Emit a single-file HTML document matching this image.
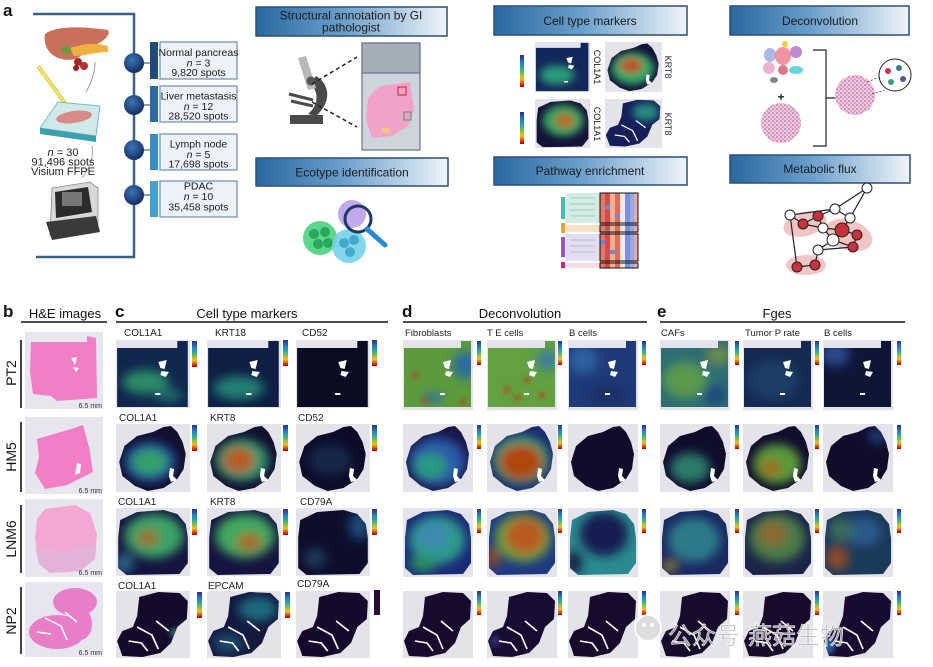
<!DOCTYPE html>
<html><head><meta charset="utf-8"><style>
html,body{margin:0;padding:0;background:#fff;}
svg{display:block;font-family:"Liberation Sans","Noto Sans CJK SC",sans-serif;}
</style></head><body>
<svg width="933" height="667" viewBox="0 0 933 667" xmlns="http://www.w3.org/2000/svg">
<defs>
<linearGradient id="hdr" x1="0" y1="0" x2="1" y2="0">
<stop offset="0" stop-color="#2a68a0"/><stop offset="0.45" stop-color="#6a9fcb"/><stop offset="1" stop-color="#f0f4fa"/></linearGradient>
<linearGradient id="jet" x1="0" y1="0" x2="0" y2="1">
<stop offset="0" stop-color="#2c2c8c"/><stop offset="0.25" stop-color="#2a80c0"/><stop offset="0.45" stop-color="#30b090"/><stop offset="0.6" stop-color="#90c040"/><stop offset="0.75" stop-color="#f0c020"/><stop offset="0.88" stop-color="#e05010"/><stop offset="1" stop-color="#a00000"/></linearGradient>
<radialGradient id="sph" cx="0.4" cy="0.35" r="0.7">
<stop offset="0" stop-color="#3f74b8"/><stop offset="1" stop-color="#0e2a5c"/></radialGradient>
<filter id="bl" x="-50%" y="-50%" width="200%" height="200%"><feGaussianBlur stdDeviation="5"/></filter>
<filter id="bl2" x="-50%" y="-50%" width="200%" height="200%"><feGaussianBlur stdDeviation="2.5"/></filter>
<pattern id="tis" width="4" height="4" patternUnits="userSpaceOnUse">
<rect width="4" height="4" fill="#f3c8d8"/><circle cx="1" cy="1" r="0.8" fill="#8a5aa8"/><circle cx="3" cy="3" r="0.8" fill="#e0708f"/></pattern>
<clipPath id="cPT2"><path d="M1,8 L58,8 L58,1 L68,1 L68,67 L1,67 Z"/></clipPath>
<clipPath id="cHM5"><path d="M3,38 L8,22 L20,12 L35,8 L45,3 L52,2 L58,8 L63,18 L66,30 L64,45 L58,55 L45,64 L30,67 L18,62 L6,52 Z"/></clipPath>
<clipPath id="cLNM"><path d="M4,12 L20,4 L45,2 L58,6 L66,16 L68,30 L68,55 L60,66 L10,67 L2,60 L2,30 Z"/></clipPath>
<clipPath id="cNP2"><path d="M22,6 L40,1 L60,2 L68,10 L67,28 L58,36 L52,52 L42,62 L25,66 L6,65 L1,50 L6,40 L16,36 L20,25 Z"/></clipPath>
<g id="hPT2" fill="#fff"><path d="M40,22 L48,20 L46,29 L42,28 Z"/><path d="M43,31 L50,32 L47,37 L42,35 Z"/><rect x="37" y="53" width="5" height="2"/></g>
<g id="hHM5" fill="#fff"><path d="M51,44 L55,45 L54,52 L58,56 L52,58 L50,52 Z"/></g>
<g id="hNP2" fill="none" stroke="#fff" stroke-width="1.6"><path d="M20,36 L34,44 L40,58"/><path d="M12,50 L24,52 L30,60"/><path d="M38,30 L50,40"/></g>
</defs>

<!-- ================= PANEL A ================= -->
<text x="3" y="16" font-size="17" font-weight="bold" fill="#111">a</text>
<path d="M33,14 H134 V257 H36" fill="none" stroke="#3b5f85" stroke-width="2.5"/>
<!-- organ illustration -->
<path d="M45,34 C55,26 80,26 108,30 C112,36 100,44 88,48 C80,60 70,62 58,58 C48,54 43,44 45,34 Z" fill="#c9705c"/>
<path d="M70,48 C82,44 95,42 108,46 L108,52 C96,52 84,56 74,56 Z" fill="#f0b040"/>
<ellipse cx="66" cy="50" rx="5" ry="4" fill="#6a9a40"/>
<circle cx="78" cy="62" r="4" fill="#a82828"/><circle cx="84" cy="66" r="4" fill="#b83030"/><circle cx="76" cy="68" r="3" fill="#a02020"/>
<path d="M95,62 C95,75 90,85 86,92" fill="none" stroke="#999" stroke-width="1"/>
<path d="M38,66 L70,110" stroke="#d8cf3a" stroke-width="4"/>
<path d="M38,66 L70,110" stroke="#f2ec8a" stroke-width="1.5"/>
<!-- slide platform -->
<path d="M40,128 L58,102 L100,106 L96,136 Z" fill="#cfe9ea" stroke="#7cbcc2" stroke-width="1"/>
<path d="M40,128 L96,136 L96,142 L40,134 Z" fill="#3aa0ad"/>
<ellipse cx="74" cy="117" rx="18" ry="6" fill="#d88a86" transform="rotate(-8 74 117)"/>
<path d="M92,146 C94,158 90,168 82,178" fill="none" stroke="#aaa" stroke-width="1"/>
<text font-size="11" fill="#222" text-anchor="middle"><tspan x="63" y="156"><tspan font-style="italic">n</tspan> = 30</tspan><tspan x="63" y="165.5">91,496 spots</tspan><tspan x="63" y="175">Visium FFPE</tspan></text>
<!-- machine -->
<path d="M52,188 L90,182 L98,188 L98,230 L50,236 Z" fill="#d8d8da" stroke="#888" stroke-width="0.8"/>
<path d="M55,192 L88,187 L92,212 L56,218 Z" fill="#2b2b2b"/>
<path d="M46,222 L96,216 L100,232 L52,240 Z" fill="#3a3a3a"/>
<rect x="62" y="192" width="20" height="14" fill="#777"/>
<!-- spheres and boxes -->
<g>
<line x1="134" y1="63" x2="150" y2="63" stroke="#3b5f85" stroke-width="1.2"/>
<line x1="134" y1="105" x2="150" y2="105" stroke="#3b5f85" stroke-width="1.2"/>
<line x1="134" y1="150" x2="150" y2="150" stroke="#3b5f85" stroke-width="1.2"/>
<line x1="134" y1="195" x2="150" y2="195" stroke="#3b5f85" stroke-width="1.2"/>
<circle cx="134" cy="63" r="10" fill="url(#sph)"/>
<circle cx="134" cy="105" r="10" fill="url(#sph)"/>
<circle cx="134" cy="150" r="10" fill="url(#sph)"/>
<circle cx="134" cy="195" r="10" fill="url(#sph)"/>
<rect x="150" y="42" width="8" height="37" fill="#1f4a7c"/>
<rect x="150" y="86" width="8" height="36" fill="#2c6aa6"/>
<rect x="150" y="134" width="8" height="36" fill="#3a8cc6"/>
<rect x="150" y="181" width="8" height="36" fill="#40a0d4"/>
<rect x="160" y="42" width="77" height="37" fill="#edf1f8" stroke="#6d8db0" stroke-width="1.2"/>
<rect x="160" y="86" width="77" height="36" fill="#edf1f8" stroke="#6d8db0" stroke-width="1.2"/>
<rect x="160" y="134" width="77" height="36" fill="#edf1f8" stroke="#6d8db0" stroke-width="1.2"/>
<rect x="160" y="181" width="77" height="36" fill="#edf1f8" stroke="#6d8db0" stroke-width="1.2"/>
<g font-size="10.5" fill="#1a1a1a" text-anchor="middle">
<text x="198.5" y="56">Normal pancreas</text><text x="198.5" y="66.5"><tspan font-style="italic">n</tspan> = 3</text><text x="198.5" y="76">9,820 spots</text>
<text x="198.5" y="99.5">Liver metastasis</text><text x="198.5" y="110"><tspan font-style="italic">n</tspan> = 12</text><text x="198.5" y="119.5">28,520 spots</text>
<text x="198.5" y="147.5">Lymph node</text><text x="198.5" y="158"><tspan font-style="italic">n</tspan> = 5</text><text x="198.5" y="167.5">17,698 spots</text>
<text x="198.5" y="189.5">PDAC</text><text x="198.5" y="200"><tspan font-style="italic">n</tspan> = 10</text><text x="198.5" y="210.5">35,458 spots</text>
</g>
</g>

<!-- ================= HEADER BOXES ================= -->
<g stroke="#2b4f78" stroke-width="1.5" fill="url(#hdr)">
<rect x="256" y="7" width="191" height="29"/>
<rect x="256" y="158" width="192" height="28"/>
<rect x="494" y="6" width="193" height="29"/>
<rect x="494" y="157" width="193" height="28"/>
<rect x="730" y="6" width="179" height="29"/>
<rect x="730" y="155" width="180" height="28"/>
</g>
<g font-size="12" fill="#1a1a1a" text-anchor="middle">
<text x="351" y="19.5">Structural annotation by GI</text>
<text x="351" y="31.5">pathologist</text>
<text x="352" y="176.5">Ecotype identification</text>
<text x="590" y="25">Cell type markers</text>
<text x="590" y="175">Pathway enrichment</text>
<text x="820" y="25">Deconvolution</text>
<text x="820" y="173">Metabolic flux</text>
</g>

<!-- microscope -->
<g>
<rect x="290" y="115" width="33" height="9" fill="#4a4a4a"/>
<path d="M316,116 C332,102 330,84 316,76 L310,84 C320,92 318,106 308,114 Z" fill="#4a4a4a"/>
<path d="M298,58 L306,56 L316,88 L308,90 Z" fill="#b8b8b8"/>
<circle cx="311" cy="81" r="4.5" fill="#555"/>
<line x1="289" y1="94" x2="313" y2="100" stroke="#4a4a4a" stroke-width="3"/>
<line x1="291" y1="101" x2="313" y2="106" stroke="#4a4a4a" stroke-width="3"/>
<line x1="312" y1="84" x2="357" y2="57" stroke="#222" stroke-width="1.5" stroke-dasharray="4,3"/>
<line x1="312" y1="102" x2="357" y2="127" stroke="#222" stroke-width="1.5" stroke-dasharray="4,3"/>
<rect x="362" y="43" width="58" height="107" fill="#cdd4dc" stroke="#6a7585" stroke-width="1.2"/>
<rect x="362" y="43" width="58" height="30" fill="#a4aeb9" stroke="#6a7585" stroke-width="1.2"/>
<path d="M368,98 L380,86 L410,82 L414,110 L408,126 L392,136 L372,138 L366,120 Z" fill="#f2a2c8"/>
<rect x="398" y="87" width="8" height="8" fill="none" stroke="#c02030" stroke-width="1"/>
<rect x="404" y="112" width="7" height="8" fill="none" stroke="#40a060" stroke-width="1"/>
<rect x="381" y="128" width="8" height="5" fill="#f0d070" opacity="0.8"/>
</g>
<!-- ecotype icon -->
<g>
<circle cx="320" cy="238" r="17" fill="#3fcf7a" opacity="0.85"/>
<circle cx="314" cy="234" r="5" fill="#27a85a"/><circle cx="325" cy="232" r="5" fill="#27a85a"/><circle cx="318" cy="244" r="5" fill="#27a85a"/><circle cx="328" cy="243" r="5" fill="#27a85a"/>
<circle cx="349" cy="246" r="17" fill="#6ed0e8" opacity="0.85"/>
<circle cx="344" cy="243" r="5" fill="#44aacc"/><circle cx="354" cy="240" r="5" fill="#44aacc"/><circle cx="350" cy="252" r="5" fill="#44aacc"/>
<circle cx="352" cy="214" r="14" fill="#b69ae8" opacity="0.85"/>
<circle cx="358" cy="219" r="13" fill="none" stroke="#1d3a66" stroke-width="3"/>
<line x1="367" y1="229" x2="385" y2="245" stroke="#2a8ad0" stroke-width="5" stroke-linecap="round"/>
</g>

<!-- cell type marker thumbnails -->
<g font-size="5" fill="#555">
<rect x="520" y="55" width="4" height="32" fill="url(#jet)"/>
<rect x="520" y="112" width="4" height="32" fill="url(#jet)"/>
</g>
<g transform="translate(535,42) scale(0.786,0.735)">
<rect width="70" height="68" fill="#e4e3ea"/>
<g clip-path="url(#cPT2)"><rect width="70" height="68" fill="#13285a"/><g filter="url(#bl)"><ellipse cx="28" cy="45" rx="22" ry="13" fill="#2a9a78"/></g></g>
<use href="#hPT2"/></g>
<g transform="translate(605,42) scale(0.814,0.735)">
<rect width="70" height="68" fill="#e4e3ea"/>
<g clip-path="url(#cHM5)"><rect width="70" height="68" fill="#141238"/><g filter="url(#bl)"><ellipse cx="34" cy="36" rx="26" ry="22" fill="#30a868"/><ellipse cx="32" cy="32" rx="14" ry="10" fill="#c05020"/></g></g>
<use href="#hHM5"/></g>
<g transform="translate(535,99) scale(0.786,0.72)">
<rect width="70" height="68" fill="#e4e3ea"/>
<g clip-path="url(#cLNM)"><rect width="70" height="68" fill="#141238"/><g filter="url(#bl)"><ellipse cx="36" cy="30" rx="26" ry="22" fill="#38a060"/><ellipse cx="38" cy="30" rx="12" ry="10" fill="#b86a20"/></g></g></g>
<g transform="translate(605,99) scale(0.814,0.72)">
<rect width="70" height="68" fill="#e4e3ea"/>
<g clip-path="url(#cNP2)"><rect width="70" height="68" fill="#15205a"/><g filter="url(#bl)"><ellipse cx="50" cy="18" rx="16" ry="12" fill="#2a8a80"/></g></g>
<use href="#hNP2"/></g>
<g font-size="9" fill="#222" text-anchor="middle">
<text transform="translate(594,67) rotate(90)">COL1A1</text>
<text transform="translate(665,67) rotate(90)">KRT8</text>
<text transform="translate(594,124) rotate(90)">COL1A1</text>
<text transform="translate(665,124) rotate(90)">KRT8</text>
</g>

<!-- pathway heatmap -->
<g>
<rect x="566" y="193" width="34" height="30" fill="#d2ece6"/>
<rect x="566" y="225" width="34" height="7" fill="#f8e0c8"/>
<rect x="566" y="234" width="34" height="27" fill="#e2def2"/>
<rect x="566" y="263" width="34" height="5" fill="#f6dce6"/>
<rect x="561" y="197" width="4" height="22" fill="#3cc0b0"/>
<rect x="561" y="223" width="4" height="10" fill="#f0a030"/>
<rect x="561" y="237" width="4" height="20" fill="#a050d0"/>
<rect x="561" y="262" width="4" height="6" fill="#d02080"/>
<g fill="#e07a68"><rect x="600" y="193" width="5" height="75"/></g>
<rect x="605" y="193" width="5" height="75" fill="#d84a48"/>
<rect x="610" y="193" width="5" height="75" fill="#f2b090"/>
<rect x="615" y="193" width="5" height="75" fill="#e46a58"/>
<rect x="620" y="193" width="5" height="75" fill="#f4e6e2"/>
<rect x="625" y="193" width="5" height="75" fill="#7a92dc"/>
<rect x="630" y="193" width="4" height="75" fill="#98a8e4"/>
<rect x="634" y="193" width="4" height="75" fill="#e8a8a8"/>
<g fill="#6a88d8"><rect x="605" y="205" width="5" height="4"/><rect x="615" y="214" width="5" height="4"/><rect x="600" y="240" width="5" height="4"/><rect x="610" y="250" width="5" height="4"/><rect x="605" y="230" width="5" height="3"/></g>
<g fill="none" stroke="#111" stroke-width="1"><rect x="600" y="193" width="38" height="30"/><rect x="600" y="225" width="38" height="7"/><rect x="600" y="234" width="38" height="27"/><rect x="600" y="263" width="38" height="5"/></g>
<g stroke="#999" stroke-width="0.5"><line x1="570" y1="198" x2="595" y2="198"/><line x1="570" y1="204" x2="595" y2="204"/><line x1="570" y1="210" x2="595" y2="210"/><line x1="570" y1="216" x2="595" y2="216"/><line x1="570" y1="240" x2="595" y2="240"/><line x1="570" y1="246" x2="595" y2="246"/><line x1="570" y1="252" x2="595" y2="252"/></g>
</g>

<!-- deconvolution illustration -->
<g>
<ellipse cx="770" cy="55" rx="6" ry="7" fill="#9aa6e0" opacity="0.8"/>
<ellipse cx="783" cy="56" rx="8" ry="9" fill="#e8788a" opacity="0.8"/>
<ellipse cx="796" cy="52" rx="6" ry="6" fill="#b06ac0" opacity="0.8"/>
<ellipse cx="769" cy="68" rx="6" ry="6" fill="#e6a0c8" opacity="0.8"/>
<ellipse cx="796" cy="70" rx="7" ry="4" fill="#40c8d0" opacity="0.8"/>
<ellipse cx="783" cy="70" rx="5" ry="5" fill="#d05a6a" opacity="0.8"/>
<ellipse cx="774" cy="80" rx="4" ry="3" fill="#666" opacity="0.8"/>
<ellipse cx="785" cy="44" rx="3" ry="3" fill="#e8d040"/>
<text x="781" y="101" font-size="12" font-weight="bold" fill="#222" text-anchor="middle">+</text>
<circle cx="781" cy="123" r="20" fill="url(#tis)"/>
<path d="M813,50 H826 V146 H813 M826,98 H836" fill="none" stroke="#222" stroke-width="1.2"/>
<circle cx="855" cy="95" r="20" fill="url(#tis)"/>
<line x1="867" y1="82" x2="882" y2="76" stroke="#444" stroke-width="0.8" stroke-dasharray="2,2"/>
<line x1="872" y1="94" x2="885" y2="90" stroke="#444" stroke-width="0.8" stroke-dasharray="2,2"/>
<circle cx="895" cy="75" r="16" fill="#fff" stroke="#222" stroke-width="1"/>
<circle cx="888" cy="71" r="3" fill="#d03050"/><circle cx="899" cy="68" r="3" fill="#3a7a8a"/><circle cx="903" cy="79" r="3" fill="#5a50b0"/><circle cx="891" cy="82" r="3" fill="#3a9a80"/>
</g>

<!-- metabolic flux network -->
<g>
<ellipse cx="805" cy="224" rx="22" ry="12" fill="#f2c4c4" transform="rotate(-15 805 224)"/>
<ellipse cx="849" cy="235" rx="24" ry="15" fill="#f2c4c4" transform="rotate(20 849 235)"/>
<ellipse cx="806" cy="265" rx="20" ry="10" fill="#f2c4c4"/>
<g stroke="#222" stroke-width="1.2" fill="none">
<path d="M867,188 L835,209 L790,215 L797,267"/>
<path d="M867,188 L850,218 L842,230"/>
<path d="M835,209 L850,218"/>
<path d="M790,215 L803,224 L818,216 L835,209"/>
<path d="M803,224 L823,228 L842,230 L857,235 L853,247 L833,240 L823,228"/>
<path d="M818,216 L823,228"/>
<path d="M833,240 L818,250 L815,265 L797,267"/>
<path d="M853,247 L818,250"/>
</g>
<g stroke="#222" stroke-width="1">
<circle cx="867" cy="188" r="5" fill="#fff"/><circle cx="835" cy="209" r="5" fill="#fff"/><circle cx="850" cy="218" r="5" fill="#fff"/><circle cx="790" cy="215" r="5" fill="#fff"/>
<circle cx="818" cy="216" r="5" fill="#c8323c"/><circle cx="803" cy="224" r="5" fill="#c8323c"/><circle cx="823" cy="228" r="5" fill="#fff"/><circle cx="842" cy="230" r="7" fill="#c8323c"/>
<circle cx="857" cy="235" r="5" fill="#c8323c"/><circle cx="833" cy="240" r="6" fill="#fff"/><circle cx="853" cy="247" r="5" fill="#c8323c"/><circle cx="818" cy="250" r="5" fill="#fff"/>
<circle cx="797" cy="267" r="5" fill="#c8323c"/><circle cx="815" cy="265" r="5" fill="#c8323c"/>
</g>
</g>

<!-- ================= BOTTOM HEADERS ================= -->
<g font-size="17" font-weight="bold" fill="#111">
<text x="3" y="317">b</text><text x="115" y="317">c</text><text x="402" y="317">d</text><text x="657" y="317">e</text>
</g>
<g font-size="13" fill="#111" text-anchor="middle">
<text x="65" y="318">H&amp;E images</text>
<text x="247" y="318">Cell type markers</text>
<text x="520" y="318">Deconvolution</text>
<text x="777" y="318">Fges</text>
</g>
<g stroke="#111" stroke-width="1.6">
<line x1="21" y1="322" x2="107" y2="322"/><line x1="116" y1="322" x2="388" y2="322"/>
<line x1="403" y1="322" x2="647" y2="322"/><line x1="660" y1="322" x2="905" y2="322"/>
<line x1="21" y1="340" x2="21" y2="408"/><line x1="21" y1="422" x2="21" y2="492"/>
<line x1="21" y1="505" x2="21" y2="573"/><line x1="21" y1="587" x2="21" y2="654"/>
</g>
<g font-size="14" fill="#111" text-anchor="middle">
<text transform="translate(16,373) rotate(-90)">PT2</text>
<text transform="translate(16,457) rotate(-90)">HM5</text>
<text transform="translate(16,539) rotate(-90)">LNM6</text>
<text transform="translate(16,621) rotate(-90)">NP2</text>
</g>

<!-- H&E -->
<g transform="translate(25,332)">
<rect width="78" height="77" fill="#e7e5ed"/>
<path d="M6,10 L62,10 L62,4 L71,6 L72,66 L32,69 L26,64 L8,62 L5,40 Z" fill="#f27ec6"/>
<path d="M46,26 L52,25 L50,33 Z M48,35 L54,36 L51,40 Z" fill="#fff"/>
<text x="77" y="76" font-size="7" fill="#333" text-anchor="end">6.5 mm</text></g>
<g transform="translate(25,417)">
<rect width="78" height="77" fill="#e7e5ed"/>
<path d="M12,22 L46,12 L58,8 L64,30 L68,55 L42,68 L20,72 L10,56 L14,40 Z" fill="#f27ec6"/>
<path d="M52,46 L56,47 L55,56 L50,58 Z" fill="#fff"/>
<text x="77" y="76" font-size="7" fill="#333" text-anchor="end">6.5 mm</text></g>
<g transform="translate(25,499)">
<rect width="78" height="78" fill="#e7e5ed"/>
<path d="M20,10 L50,6 L65,14 L72,35 L70,60 L55,72 L25,74 L14,65 L10,40 L12,20 Z" fill="#f3a8d2"/>
<path d="M10,48 L40,52 L70,45 L70,60 L55,72 L25,74 L14,65 Z" fill="#e0b4d8" opacity="0.8"/>
<text x="77" y="76" font-size="7" fill="#333" text-anchor="end">6.5 mm</text></g>
<g transform="translate(25,582)">
<rect width="78" height="75" fill="#e7e5ed"/>
<ellipse cx="50" cy="20" rx="22" ry="14" fill="#e97ec8"/>
<ellipse cx="32" cy="50" rx="28" ry="17" fill="#e97ec8"/>
<ellipse cx="55" cy="42" rx="12" ry="16" fill="#e97ec8"/>
<path d="M20,36 L36,44 L42,58 M12,50 L26,52 M40,30 L52,40" stroke="#fff" stroke-width="1.5" fill="none"/>
<text x="77" y="73" font-size="7" fill="#333" text-anchor="end">6.5 mm</text></g>

<!-- column labels -->
<g font-size="10" fill="#222">
<text x="124" y="336">COL1A1</text><text x="215" y="336">KRT18</text><text x="302" y="336">CD52</text>
<text x="119" y="421">COL1A1</text><text x="210" y="421">KRT8</text><text x="298" y="421">CD52</text>
<text x="118" y="505">COL1A1</text><text x="210" y="505">KRT8</text><text x="300" y="505">CD79A</text>
<text x="118" y="589">COL1A1</text><text x="208" y="589">EPCAM</text><text x="297" y="587">CD79A</text>
</g>
<g font-size="9.5" fill="#222">
<text x="405" y="336">Fibroblasts</text><text x="487" y="336">T E cells</text><text x="569" y="336">B cells</text>
<text x="661" y="336">CAFs</text><text x="745" y="336">Tumor P rate</text><text x="824" y="336">B cells</text>
</g>

<!-- ===== c panels (width 74 -> scale 1.057) ===== -->
<!-- row1 PT2 -->
<g transform="translate(116,340) scale(1.057,1)"><rect width="70" height="68" fill="#e4e3ea"/>
<g clip-path="url(#cPT2)"><rect width="70" height="68" fill="#10264e"/><g filter="url(#bl)"><ellipse cx="28" cy="42" rx="22" ry="12" fill="#2a8a68"/><ellipse cx="50" cy="55" rx="12" ry="7" fill="#1f6a6a"/></g></g><use href="#hPT2"/></g>
<g transform="translate(207,340) scale(1.057,1)"><rect width="70" height="68" fill="#e4e3ea"/>
<g clip-path="url(#cPT2)"><rect width="70" height="68" fill="#0e1e44"/><g filter="url(#bl)"><ellipse cx="30" cy="48" rx="24" ry="12" fill="#247e72"/></g></g><use href="#hPT2"/></g>
<g transform="translate(296,340) scale(1.057,1)"><rect width="70" height="68" fill="#e4e3ea"/>
<g clip-path="url(#cPT2)"><rect width="70" height="68" fill="#0a0c22"/></g><use href="#hPT2"/></g>
<!-- row2 HM5 -->
<g transform="translate(116,424) scale(1.057,1)"><rect width="70" height="68" fill="#e4e3ea"/>
<g clip-path="url(#cHM5)"><rect width="70" height="68" fill="#121030"/><g filter="url(#bl)"><ellipse cx="32" cy="38" rx="24" ry="20" fill="#2456a0"/><ellipse cx="32" cy="38" rx="17" ry="13" fill="#34a068"/></g></g><use href="#hHM5"/></g>
<g transform="translate(207,424) scale(1.057,1)"><rect width="70" height="68" fill="#e4e3ea"/>
<g clip-path="url(#cHM5)"><rect width="70" height="68" fill="#121030"/><g filter="url(#bl)"><ellipse cx="33" cy="36" rx="25" ry="21" fill="#2e9a70"/><ellipse cx="30" cy="36" rx="15" ry="13" fill="#b85a20"/></g></g><use href="#hHM5"/></g>
<g transform="translate(296,424) scale(1.057,1)"><rect width="70" height="68" fill="#e4e3ea"/>
<g clip-path="url(#cHM5)"><rect width="70" height="68" fill="#0c0c28"/><g filter="url(#bl)"><ellipse cx="32" cy="36" rx="20" ry="16" fill="#142848"/></g></g><use href="#hHM5"/></g>
<!-- row3 LNM6 -->
<g transform="translate(116,508) scale(1.057,1)"><rect width="70" height="68" fill="#e4e3ea"/>
<g clip-path="url(#cLNM)"><rect width="70" height="68" fill="#151440"/><g filter="url(#bl)"><ellipse cx="36" cy="28" rx="28" ry="22" fill="#3aa268"/><ellipse cx="30" cy="30" rx="10" ry="8" fill="#a06a20"/><ellipse cx="8" cy="55" rx="8" ry="10" fill="#2a6a8a"/></g></g></g>
<g transform="translate(207,508) scale(1.057,1)"><rect width="70" height="68" fill="#e4e3ea"/>
<g clip-path="url(#cLNM)"><rect width="70" height="68" fill="#151440"/><g filter="url(#bl)"><ellipse cx="36" cy="28" rx="28" ry="22" fill="#40a860"/><ellipse cx="40" cy="34" rx="12" ry="9" fill="#a86a20"/></g></g></g>
<g transform="translate(296,508) scale(1.057,1)"><rect width="70" height="68" fill="#e4e3ea"/>
<g clip-path="url(#cLNM)"><rect width="70" height="68" fill="#0e0e2c"/><g filter="url(#bl)"><ellipse cx="60" cy="18" rx="10" ry="14" fill="#1e4a7a"/><ellipse cx="18" cy="50" rx="10" ry="10" fill="#1a3a5a"/></g></g></g>
<!-- row4 NP2 -->
<g transform="translate(116,591) scale(1.057,1)"><rect width="70" height="67" fill="#e4e3ea"/>
<g clip-path="url(#cNP2)"><rect width="70" height="68" fill="#160a2c"/><g filter="url(#bl2)"><ellipse cx="56" cy="42" rx="5" ry="5" fill="#2a6a6a"/></g></g><use href="#hNP2"/></g>
<g transform="translate(207,591) scale(1.057,1)"><rect width="70" height="67" fill="#e4e3ea"/>
<g clip-path="url(#cNP2)"><rect width="70" height="68" fill="#14183e"/><g filter="url(#bl)"><ellipse cx="48" cy="18" rx="18" ry="12" fill="#1f6a80"/><ellipse cx="20" cy="52" rx="14" ry="10" fill="#1a4a6a"/></g></g><use href="#hNP2"/></g>
<g transform="translate(296,591) scale(1.057,1)"><rect width="70" height="67" fill="#e4e3ea"/>
<g clip-path="url(#cNP2)"><rect width="70" height="68" fill="#160a2c"/></g><use href="#hNP2"/></g>

<!-- c colorbars -->
<g fill="url(#jet)">
<rect x="192" y="341" width="5" height="26"/><rect x="283" y="340" width="5" height="26"/><rect x="372" y="340" width="5" height="26"/>
<rect x="192" y="425" width="5" height="26"/><rect x="283" y="425" width="5" height="26"/><rect x="372" y="425" width="5" height="26"/>
<rect x="192" y="509" width="5" height="26"/><rect x="283" y="509" width="5" height="26"/><rect x="372" y="509" width="5" height="26"/>
<rect x="197" y="592" width="5" height="26"/><rect x="285" y="592" width="5" height="26"/>
</g>
<rect x="374" y="590" width="6" height="25" fill="#2a0a3a"/>

<!-- ===== d / e panels ===== -->
<!-- row1 PT2 -->
<g transform="translate(403,340)"><rect width="70" height="70" fill="#e4e3ea"/>
<g clip-path="url(#cPT2)"><rect width="70" height="70" fill="#5c9a3c"/><g filter="url(#bl)"><ellipse cx="62" cy="25" rx="12" ry="14" fill="#2a6aa0"/><ellipse cx="30" cy="58" rx="10" ry="5" fill="#2a70a0"/></g><g filter="url(#bl2)" fill="#b04a20"><circle cx="12" cy="35" r="3"/><circle cx="60" cy="62" r="3"/><circle cx="22" cy="60" r="3"/></g></g><use href="#hPT2"/></g>
<g transform="translate(487,340)"><rect width="70" height="70" fill="#e4e3ea"/>
<g clip-path="url(#cPT2)"><rect width="70" height="70" fill="#62a040"/><g filter="url(#bl)"><ellipse cx="60" cy="20" rx="10" ry="10" fill="#3a7aa0"/></g><g filter="url(#bl2)" fill="#b04a20"><circle cx="20" cy="50" r="3"/><circle cx="40" cy="40" r="3"/><circle cx="55" cy="55" r="3"/><circle cx="30" cy="58" r="3"/></g></g><use href="#hPT2"/></g>
<g transform="translate(568,340)"><rect width="70" height="70" fill="#e4e3ea"/>
<g clip-path="url(#cPT2)"><rect width="70" height="70" fill="#1e3a78"/><g filter="url(#bl)"><ellipse cx="15" cy="20" rx="15" ry="14" fill="#2e5ea0"/><ellipse cx="40" cy="55" rx="20" ry="10" fill="#1a2e66"/></g></g><use href="#hPT2"/></g>
<g transform="translate(660,340)"><rect width="70" height="70" fill="#e4e3ea"/>
<g clip-path="url(#cPT2)"><rect width="70" height="70" fill="#2e6e72"/><g filter="url(#bl)"><ellipse cx="25" cy="40" rx="22" ry="18" fill="#5a9a50"/><ellipse cx="58" cy="15" rx="12" ry="10" fill="#6a8a50"/><ellipse cx="55" cy="55" rx="12" ry="10" fill="#1e4a7a"/></g></g><use href="#hPT2"/></g>
<g transform="translate(743,340)"><rect width="70" height="70" fill="#e4e3ea"/>
<g clip-path="url(#cPT2)"><rect width="70" height="70" fill="#142a52"/><g filter="url(#bl)"><ellipse cx="30" cy="40" rx="25" ry="20" fill="#1c3e66"/></g></g><use href="#hPT2"/></g>
<g transform="translate(823,340)"><rect width="70" height="70" fill="#e4e3ea"/>
<g clip-path="url(#cPT2)"><rect width="70" height="70" fill="#0e1638"/><g filter="url(#bl)"><ellipse cx="12" cy="14" rx="14" ry="12" fill="#2a4a8a"/></g></g><use href="#hPT2"/></g>
<!-- row2 HM5 -->
<g transform="translate(403,424)"><rect width="70" height="68" fill="#e4e3ea"/>
<g clip-path="url(#cHM5)"><rect width="70" height="68" fill="#181848"/><g filter="url(#bl)"><ellipse cx="34" cy="38" rx="28" ry="24" fill="#2a5aa8"/><ellipse cx="28" cy="42" rx="16" ry="13" fill="#2a9a80"/></g></g><use href="#hHM5"/></g>
<g transform="translate(487,424)"><rect width="70" height="68" fill="#e4e3ea"/>
<g clip-path="url(#cHM5)"><rect width="70" height="68" fill="#1a2a70"/><g filter="url(#bl)"><ellipse cx="34" cy="36" rx="28" ry="24" fill="#3aa070"/><ellipse cx="34" cy="38" rx="22" ry="18" fill="#b04410"/></g></g><use href="#hHM5"/></g>
<g transform="translate(568,424)"><rect width="70" height="68" fill="#e4e3ea"/>
<g clip-path="url(#cHM5)"><rect width="70" height="68" fill="#100c2a"/></g><use href="#hHM5"/></g>
<g transform="translate(660,424)"><rect width="70" height="68" fill="#e4e3ea"/>
<g clip-path="url(#cHM5)"><rect width="70" height="68" fill="#100c2c"/><g filter="url(#bl)"><ellipse cx="30" cy="44" rx="20" ry="15" fill="#2a7a6a"/></g></g><use href="#hHM5"/></g>
<g transform="translate(743,424)"><rect width="70" height="68" fill="#e4e3ea"/>
<g clip-path="url(#cHM5)"><rect width="70" height="68" fill="#100c2c"/><g filter="url(#bl)"><ellipse cx="34" cy="40" rx="24" ry="20" fill="#5a9a3a"/><ellipse cx="28" cy="44" rx="10" ry="8" fill="#a06a20"/></g></g><use href="#hHM5"/></g>
<g transform="translate(823,424)"><rect width="70" height="68" fill="#e4e3ea"/>
<g clip-path="url(#cHM5)"><rect width="70" height="68" fill="#100c2a"/><g filter="url(#bl)"><ellipse cx="55" cy="12" rx="10" ry="8" fill="#1e3a70"/></g></g><use href="#hHM5"/></g>
<!-- row3 LNM6 -->
<g transform="translate(403,508)"><rect width="70" height="69" fill="#e4e3ea"/>
<g clip-path="url(#cLNM)"><rect width="70" height="68" fill="#1a2a78"/><g filter="url(#bl)"><ellipse cx="34" cy="32" rx="28" ry="24" fill="#2e9a8a"/><ellipse cx="30" cy="28" rx="16" ry="14" fill="#3a8ab0"/><ellipse cx="20" cy="56" rx="14" ry="8" fill="#2a8a60"/></g></g></g>
<g transform="translate(487,508)"><rect width="70" height="69" fill="#e4e3ea"/>
<g clip-path="url(#cLNM)"><rect width="70" height="68" fill="#1e3a80"/><g filter="url(#bl)"><ellipse cx="36" cy="30" rx="28" ry="24" fill="#6aa040"/><ellipse cx="38" cy="28" rx="20" ry="18" fill="#b85a20"/><ellipse cx="6" cy="50" rx="6" ry="10" fill="#a04a20"/></g></g></g>
<g transform="translate(568,508)"><rect width="70" height="69" fill="#e4e3ea"/>
<g clip-path="url(#cLNM)"><rect width="70" height="68" fill="#2a8a90"/><g filter="url(#bl)"><ellipse cx="36" cy="26" rx="24" ry="22" fill="#141a50"/><ellipse cx="6" cy="55" rx="8" ry="12" fill="#141a40"/></g></g></g>
<g transform="translate(660,508)"><rect width="70" height="69" fill="#e4e3ea"/>
<g clip-path="url(#cLNM)"><rect width="70" height="68" fill="#1a2a60"/><g filter="url(#bl)"><ellipse cx="34" cy="32" rx="26" ry="22" fill="#2a7a8a"/><ellipse cx="10" cy="58" rx="8" ry="6" fill="#8a7a30"/></g></g></g>
<g transform="translate(743,508)"><rect width="70" height="69" fill="#e4e3ea"/>
<g clip-path="url(#cLNM)"><rect width="70" height="68" fill="#1a2448"/><g filter="url(#bl)"><ellipse cx="34" cy="30" rx="28" ry="24" fill="#4a7a4a"/><ellipse cx="30" cy="26" rx="14" ry="12" fill="#8a6a30"/></g></g></g>
<g transform="translate(823,508)"><rect width="70" height="69" fill="#e4e3ea"/>
<g clip-path="url(#cLNM)"><rect width="70" height="68" fill="#1a3a5a"/><g filter="url(#bl)"><ellipse cx="40" cy="24" rx="18" ry="14" fill="#2a5a8a"/><ellipse cx="14" cy="50" rx="12" ry="12" fill="#8a4a2a"/><ellipse cx="18" cy="22" rx="12" ry="12" fill="#3a6a5a"/></g></g></g>
<!-- row4 NP2 -->
<g transform="translate(403,591)"><rect width="70" height="67" fill="#e4e3ea"/><g clip-path="url(#cNP2)"><rect width="70" height="68" fill="#170a2c"/></g><use href="#hNP2"/></g>
<g transform="translate(487,591)"><rect width="70" height="67" fill="#e4e3ea"/><g clip-path="url(#cNP2)"><rect width="70" height="68" fill="#170c32"/><g filter="url(#bl2)"><ellipse cx="8" cy="50" rx="5" ry="6" fill="#2a2a6a"/></g></g><use href="#hNP2"/></g>
<g transform="translate(568,591)"><rect width="70" height="67" fill="#e4e3ea"/><g clip-path="url(#cNP2)"><rect width="70" height="68" fill="#170a2c"/></g><use href="#hNP2"/></g>
<g transform="translate(660,591)"><rect width="70" height="67" fill="#e4e3ea"/><g clip-path="url(#cNP2)"><rect width="70" height="68" fill="#170a2c"/></g><use href="#hNP2"/></g>
<g transform="translate(743,591)"><rect width="70" height="67" fill="#e4e3ea"/><g clip-path="url(#cNP2)"><rect width="70" height="68" fill="#170a2c"/></g><use href="#hNP2"/></g>
<g transform="translate(823,591)"><rect width="70" height="67" fill="#e4e3ea"/><g clip-path="url(#cNP2)"><rect width="70" height="68" fill="#170c30"/><g filter="url(#bl2)"><ellipse cx="6" cy="55" rx="6" ry="8" fill="#2a5a9a"/></g></g><use href="#hNP2"/></g>

<!-- d/e colorbars -->
<g fill="url(#jet)">
<rect x="477" y="341" width="4" height="24"/><rect x="558" y="341" width="4" height="24"/><rect x="642" y="341" width="4" height="24"/>
<rect x="735" y="341" width="4" height="24"/><rect x="815" y="341" width="4" height="24"/><rect x="897" y="341" width="4" height="24"/>
<rect x="477" y="425" width="4" height="24"/><rect x="558" y="425" width="4" height="24"/><rect x="642" y="425" width="4" height="24"/>
<rect x="735" y="425" width="4" height="24"/><rect x="815" y="425" width="4" height="24"/><rect x="897" y="425" width="4" height="24"/>
<rect x="477" y="509" width="4" height="24"/><rect x="558" y="509" width="4" height="24"/><rect x="642" y="509" width="4" height="24"/>
<rect x="735" y="509" width="4" height="24"/><rect x="815" y="509" width="4" height="24"/><rect x="897" y="509" width="4" height="24"/>
<rect x="477" y="591" width="4" height="24"/><rect x="558" y="591" width="4" height="24"/><rect x="642" y="591" width="4" height="24"/>
<rect x="735" y="591" width="4" height="24"/><rect x="815" y="591" width="4" height="24"/><rect x="897" y="591" width="4" height="24"/>
</g>

<!-- watermark -->
<g opacity="0.85">
<circle cx="648" cy="628" r="13" fill="#d8d8d8" stroke="#fff" stroke-width="2"/>
<circle cx="644" cy="625" r="2" fill="#fff"/><circle cx="652" cy="625" r="2" fill="#fff"/>
<text x="668" y="644" font-size="24" fill="#a8a8a8" stroke="#ffffff" stroke-width="0.8" font-family="'Liberation Sans','Noto Sans CJK SC',sans-serif">公众号·燕菇生物</text>
</g>
</svg>
</body></html>
